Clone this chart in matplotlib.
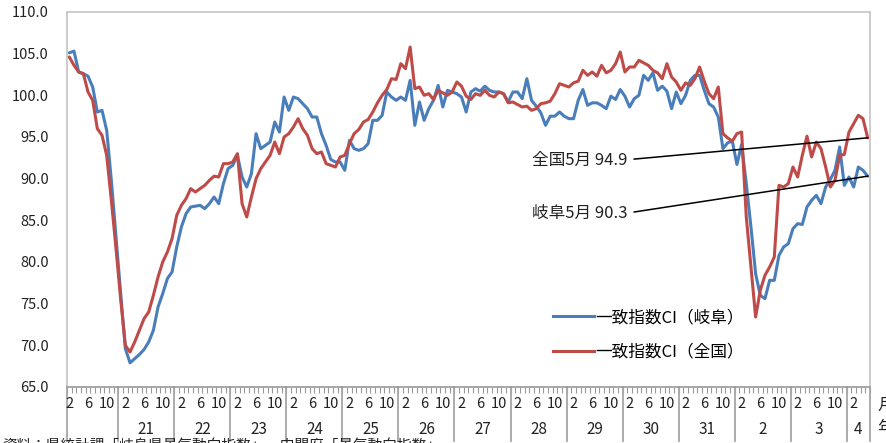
import numpy as np
import matplotlib
matplotlib.use("Agg")
import matplotlib.pyplot as plt
from matplotlib.transforms import blended_transform_factory
from matplotlib.lines import Line2D

plt.rcParams['font.family'] = ['Noto Sans CJK JP', 'DejaVu Sans']

# 一致指数CI 月次（平成20年2月～令和4年5月）
gifu_ci = [
    105.1, 105.3, 102.8, 102.6, 102.3, 101.0, 98.0, 98.2, 95.8, 89.8, 83.0,          # H20 2-12
    76.2, 69.6, 67.9, 68.4, 68.9, 69.5, 70.4, 71.8, 74.6, 76.2, 78.0, 78.8,          # H21
    81.8, 84.2, 85.8, 86.6, 86.7, 86.8, 86.4, 87.0, 87.8, 87.0, 89.4, 91.2,          # H22
    91.6, 92.8, 90.2, 89.0, 90.6, 95.4, 93.6, 94.0, 94.4, 96.8, 95.6, 99.8,          # H23
    98.2, 99.8, 99.6, 99.0, 98.4, 97.4, 97.4, 95.4, 94.0, 92.3, 92.0, 92.0,          # H24
    91.0, 94.6, 93.6, 93.4, 93.6, 94.2, 97.0, 97.0, 97.6, 100.4, 99.8, 99.4,         # H25
    99.8, 99.4, 101.8, 96.4, 99.2, 97.0, 98.4, 99.4, 101.2, 98.6, 100.6, 100.4,      # H26
    100.2, 99.8, 98.0, 100.4, 100.8, 100.5, 101.1, 100.6, 100.4, 100.4, 100.2, 99.2, # H27
    100.4, 100.4, 99.6, 102.0, 99.4, 98.7, 97.9, 96.4, 97.5, 97.5, 98.0, 97.5,       # H28
    97.2, 97.2, 99.4, 100.7, 98.8, 99.1, 99.1, 98.8, 98.4, 99.9, 99.5, 100.7,        # H29
    99.9, 98.6, 99.6, 100.0, 102.4, 101.8, 102.7, 100.6, 101.1, 100.5, 98.4, 100.4,  # H30
    99.0, 100.0, 101.8, 102.4, 102.4, 100.6, 99.0, 98.6, 97.4, 93.6, 94.3, 94.5,     # H31/R1
    91.7, 94.1, 89.4, 84.2, 78.6, 76.0, 75.6, 77.8, 77.8, 80.8, 81.8, 82.2,          # R2
    84.0, 84.6, 84.5, 86.6, 87.4, 88.0, 87.0, 89.0, 89.9, 91.0, 93.8, 89.2,          # R3
    90.2, 89.0, 91.4, 91.0, 90.3,                                                    # R4 1-5
]
zenkoku_ci = [
    104.6, 103.6, 102.8, 102.6, 100.4, 99.4, 96.0, 95.2, 92.8, 87.4, 81.6,
    75.5, 70.0, 69.2, 70.4, 71.8, 73.2, 74.0, 76.0, 78.2, 80.0, 81.2, 82.8,
    85.6, 86.8, 87.6, 88.8, 88.4, 88.8, 89.2, 89.8, 90.3, 90.2, 91.8, 91.8,
    92.0, 93.0, 87.0, 85.4, 87.8, 90.0, 91.2, 92.0, 92.8, 94.4, 93.0, 95.0,
    95.4, 96.2, 97.2, 96.0, 95.2, 93.6, 93.0, 93.2, 91.8, 91.6, 91.4, 92.6,
    92.8, 94.2, 95.4, 95.9, 96.8, 97.1, 98.0, 99.1, 100.0, 100.7, 102.0, 101.9,
    103.8, 103.2, 105.8, 100.8, 101.0, 100.0, 100.2, 99.5, 100.6, 100.3, 100.0, 100.4,
    101.6, 101.1, 99.9, 99.5, 100.2, 100.0, 100.6, 100.0, 99.8, 100.4, 100.2, 99.1,
    99.2, 98.9, 98.6, 98.7, 98.2, 98.4, 99.0, 99.1, 99.3, 100.2, 101.4, 101.2,
    101.0, 101.5, 101.7, 103.0, 102.4, 102.8, 102.3, 103.6, 102.7, 103.0, 103.8, 105.2,
    102.8, 103.4, 103.4, 104.2, 103.9, 103.6, 103.0, 102.7, 102.0, 103.8, 102.2, 101.6,
    100.6, 101.5, 101.2, 102.0, 103.4, 101.7, 100.2, 99.6, 101.0, 95.4, 94.9, 94.5,
    95.4, 95.6, 85.4, 79.4, 73.4, 76.6, 78.4, 79.4, 80.6, 89.2, 89.0, 89.4,
    91.4, 90.2, 92.8, 95.1, 92.6, 94.4, 93.6, 91.4, 89.0, 89.8, 92.8, 92.9,
    95.6, 96.6, 97.6, 97.2, 94.9,
]
start_month = 2
year_labels = ['21', '22', '23', '24', '25', '26', '27', '28', '29', '30', '31', '2', '3', '4']
month_tick_labels = ['2', '6', '10']
series_names = ['一致指数CI（岐阜）', '一致指数CI（全国）']
series_colors = ['#4a7ebb', '#be4b48']
note_texts = ['全国5月 94.9', '岐阜5月 90.3']

n = len(gifu_ci)
x = np.arange(n)
months = [(start_month - 1 + i) % 12 + 1 for i in range(n)]

W, H = 886, 443
fig = plt.figure(figsize=(W / 100, H / 100), dpi=100)
ax_l, ax_r, ax_t, ax_b = 67, 870, 12, 387
ax = fig.add_axes([ax_l / W, 1 - ax_b / H, (ax_r - ax_l) / W, (ax_b - ax_t) / H])

for vals, col in zip([gifu_ci, zenkoku_ci], series_colors):
    ax.plot(x, vals, color=col, lw=2.2, solid_joinstyle='round', solid_capstyle='round', zorder=3)

ax.set_xlim(-0.5, n - 0.5)
ax.set_ylim(65, 110)
ax.set_yticks(np.arange(65, 110.1, 5))
ax.set_yticklabels([f'{v:.1f}' for v in np.arange(65, 110.1, 5)], fontsize=10.5, color='#222222')
ax.tick_params(axis='y', length=0, pad=13)

# month ticks along the category axis
ax.set_xticks([])
ax.set_xticks(np.arange(-0.5, n, 1), minor=True)
ax.tick_params(axis='x', which='minor', length=4, width=0.8, color='#9a9a9a', direction='out')

for side in ['top', 'right', 'left']:
    ax.spines[side].set_color('#c4c4c4')
    ax.spines[side].set_linewidth(1.2)
ax.spines['bottom'].set_color('#9a9a9a')
ax.spines['bottom'].set_linewidth(1.2)

trans = blended_transform_factory(ax.transData, ax.transAxes)
y_month = (ax_b - 404) / (ax_b - ax_t)
y_year = (ax_b - 430) / (ax_b - ax_t)
y_sep = (ax_b - 441) / (ax_b - ax_t)

for i, m in enumerate(months):
    if str(m) in month_tick_labels:
        ax.text(i, y_month, str(m), transform=trans, ha='center', va='center',
                fontsize=10.5, color='#222222', clip_on=False)

jan_idx = [i for i, m in enumerate(months) if m == 1]
bounds = [-0.5] + [j - 0.5 for j in jan_idx] + [n - 0.5]
for b in bounds:
    ax.plot([b, b], [0, y_sep], transform=trans, color='#a6a6a6', lw=1.3, clip_on=False)
for lab, j in zip(year_labels, jan_idx):
    end = min(j + 11, n - 1)
    ax.text((j + end) / 2, y_year, lab, transform=trans, ha='center', va='center',
            fontsize=11, color='#222222', clip_on=False)

# latest-month callouts
line_start_x = 121.0
for txt, vals, y0 in zip(note_texts, [zenkoku_ci, gifu_ci], [92.35, 86.0]):
    ax.plot([line_start_x, n - 1], [y0, vals[-1]], color='black', lw=1.1, zorder=4)
    ax.text(line_start_x - 1.5, y0 - 0.15, txt, ha='right', va='center', fontsize=12, color='#222222')

handles = [Line2D([0], [0], color=c, lw=2.2) for c in series_colors]
ax.legend(handles, series_names, loc='upper left',
          bbox_to_anchor=((553 - ax_l) / (ax_r - ax_l), (ax_b - 309) / (ax_b - ax_t)),
          frameon=False, fontsize=12, handlelength=2.45, handletextpad=0.1, labelspacing=1.05,
          borderpad=0, borderaxespad=0)

fig.text(877 / W, 1 - 405 / H, '月', fontsize=12, ha='left', va='center', color='#222222')
fig.text(877 / W, 1 - 428 / H, '年', fontsize=12, ha='left', va='center', color='#222222')
fig.text(850 / W, 1 + 8 / H, '（平成27年＝100）', fontsize=12, ha='right', va='center', color='#222222')
fig.text(2 / W, 1 - 446 / H, '資料：県統計課「岐阜県景気動向指数」、内閣府「景気動向指数」',
         fontsize=10.5, ha='left', va='center', color='#222222')

fig.savefig('out.png', dpi=100)
